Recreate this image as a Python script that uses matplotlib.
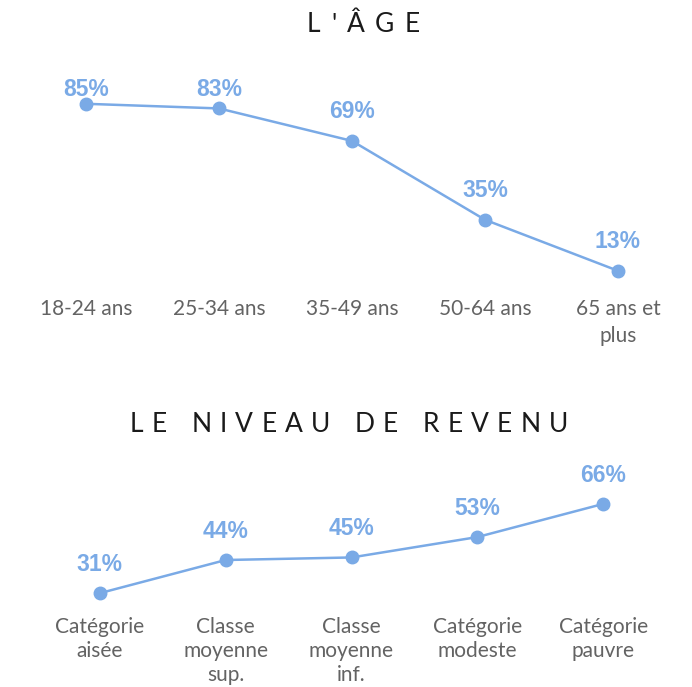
import matplotlib
matplotlib.use("Agg")
import matplotlib.pyplot as plt
from matplotlib.font_manager import FontProperties

# data
age_labels = ["18-24 ans", "25-34 ans", "35-49 ans", "50-64 ans", "65 ans et\nplus"]
age_values = [85, 83, 69, 35, 13]
rev_labels = ["Catégorie\naisée", "Classe\nmoyenne\nsup.", "Classe\nmoyenne\ninf.",
              "Catégorie\nmodeste", "Catégorie\npauvre"]
rev_values = [31, 44, 45, 53, 66]

BLUE = "#7aaae6"
GREY = "#636363"
LABEL_FONT = ["Lato", "DejaVu Sans"]

W, H = 692, 687
fig = plt.figure(figsize=(W / 100, H / 100), dpi=100)
renderer = fig.canvas.get_renderer()


def spaced_title(text, x0, x1, yc, size=19):
    # letter-spaced title stretched between x0 and x1 (pixels)
    prop = FontProperties(family=LABEL_FONT, size=size)
    widths = []
    for c in text:
        if c == " ":
            widths.append(size * 100 / 72 * 0.3)
        else:
            w, h, d = renderer.get_text_width_height_descent(c, prop, ismath=False)
            widths.append(w)
    track = (x1 - x0 - sum(widths)) / (len(text) - 1)
    pos = x0
    for c, w in zip(text, widths):
        if c != " ":
            fig.text(pos / W, 1 - yc / H, c, ha="left", va="center",
                     fontproperties=prop, color="#1a1a1a")
        pos += w + track


def line_panel(rect, labels, values, ylim, px_per_unit, cap=None, linespacing=1.3):
    ax = fig.add_axes(rect)
    x = list(range(len(values)))
    ax.plot(x, values, color=BLUE, lw=1.8, marker="o", ms=9, zorder=3)
    ax.set_xlim(-0.5, len(values) - 0.5)
    ax.set_ylim(*ylim)
    off = 29 / px_per_unit
    for xi, v in zip(x, values):
        ty = v + off
        if cap is not None:
            ty = min(ty, cap)
        ax.text(xi, ty, f"{v}%", ha="center", va="center", fontsize=16.5,
                fontweight="bold", color=BLUE, family="Liberation Sans")
    ax.set_xticks(x)
    ax.set_xticklabels(labels, fontsize=15, color=GREY, family=LABEL_FONT,
                       linespacing=linespacing)
    ax.tick_params(axis="x", length=0, pad=3.5)
    ax.set_yticks([])
    for s in ax.spines.values():
        s.set_visible(False)
    return ax


spaced_title("L'ÂGE", 307, 420, 25)
spaced_title("LE NIVEAU DE REVENU", 130, 568, 424)

# top panel: 2.32 px per %, 85% at y=104 px
line_panel([19.5 / W, (H - 294) / H, 665 / W, 225 / H], age_labels, age_values,
           (3, 100), 2.32, cap=85 + 14 / 2.32, linespacing=1.45)

# bottom panel: 2.57 px per %, 31% at y=594 px
line_panel([37 / W, (H - 612) / H, 629 / W, 131 / H], rev_labels, rev_values,
           (23.6, 75), 2.57, linespacing=1.25)

fig.savefig("out.png", dpi=100)
